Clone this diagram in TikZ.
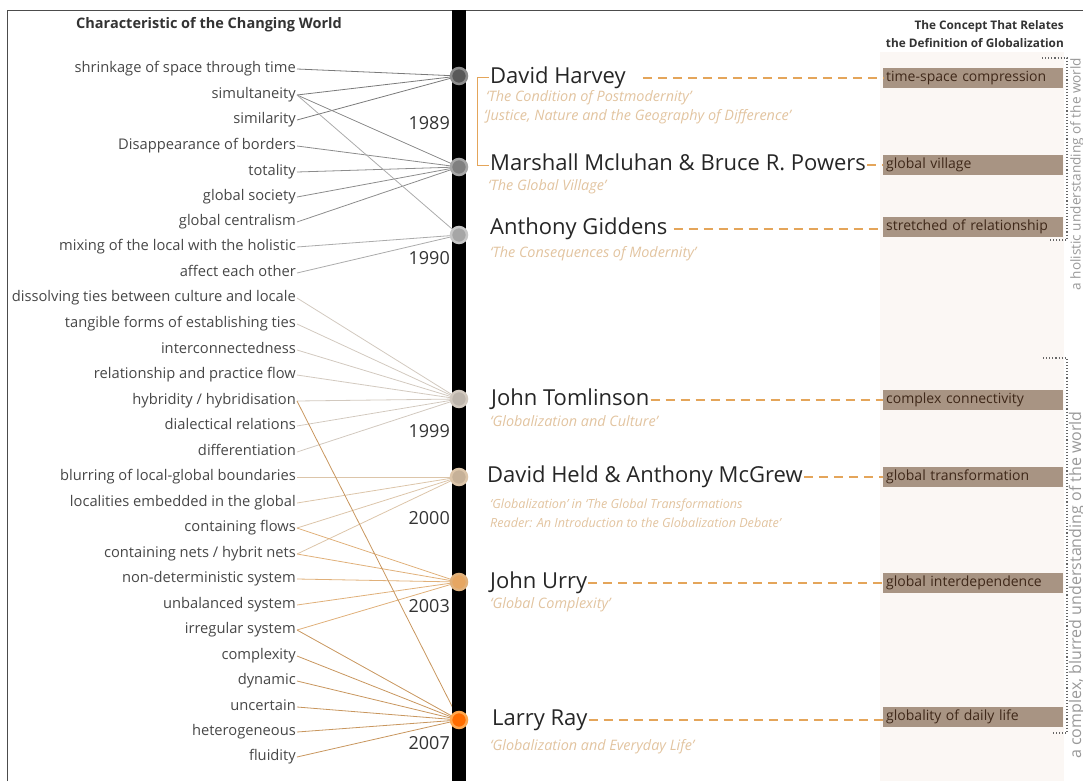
\documentclass[tikz,border=0pt]{standalone}
\usepackage{fontspec}
\setmainfont{Open Sans}
\usetikzlibrary{positioning}

\definecolor{harveyline}{HTML}{7A7A7A}
\definecolor{mcluhanline}{HTML}{8C8C8C}
\definecolor{giddensline}{HTML}{ABABAB}
\definecolor{tomlinsonline}{HTML}{D2C9BF}
\definecolor{heldline}{HTML}{DCC5A9}
\definecolor{urryline}{HTML}{E0B07A}
\definecolor{rayline}{HTML}{C8965E}
\definecolor{dashorange}{HTML}{E4A55A}
\definecolor{booktitle}{HTML}{E2C4A0}
\definecolor{conceptfill}{HTML}{A89483}
\definecolor{concepttext}{HTML}{3F2819}
\definecolor{bandfill}{HTML}{FBF7F4}

\begin{document}
\begin{tikzpicture}[x=1pt, y=-1pt,
  feature/.style={anchor=east, inner sep=1pt, text=black!72, text height=10pt, text depth=3pt,
    font=\fontsize{14.7}{16}\selectfont},
  year/.style={anchor=east, inner sep=1pt, text=black!80, font=\fontsize{18}{20}\selectfont},
  author/.style={anchor=west, inner sep=1pt, text=black!85, text height=16pt, text depth=5pt,
    font=\fontsize{22}{24}\selectfont},
  book/.style={anchor=west, inner sep=0pt, text=booktitle, font=\fontsize{14.4}{16}\selectfont\itshape},
  concept/.style={anchor=west, fill=conceptfill, text=concepttext, minimum height=20pt,
    text width=174pt, inner xsep=3pt, inner ysep=0pt, align=left, font=\fontsize{14}{16}\selectfont},
  event/.style={circle, minimum size=16pt, inner sep=0pt, line width=2.5pt},
  link/.style={line width=0.8pt},
  dashline/.style={draw=dashorange, line width=1.6pt, dash pattern=on 9pt off 6pt},
  heading/.style={inner sep=0pt, text=black!80, font=\fontsize{14.5}{16}\selectfont\bfseries}
]
\useasboundingbox (0,0) rectangle (1083,781);
% frame and right band
\fill[bandfill] (880,52) rectangle (1064,781);
\draw[black!70, line width=0.8pt] (7,781) -- (7,10) -- (1083,10);

% headings
\node[heading, anchor=west] (lefthead) at (76,25) {Characteristic of the Changing World};
\node[heading, anchor=east, align=right, font=\fontsize{11.8}{18}\selectfont\bfseries] (righthead) at (1064,34)
  {The Concept That Relates\\the Definition of Globalization};

% characteristics of the changing world
\node[feature] (shrink) at (297,69) {shrinkage of space through time};
\node[feature] (simult) at (297,95) {simultaneity};
\node[feature] (simil) at (297,120) {similarity};
\node[feature] (borders) at (297,146) {Disappearance of borders};
\node[feature] (total) at (297,172) {totality};
\node[feature] (society) at (297,197) {global society};
\node[feature] (central) at (297,222) {global centralism};
\node[feature] (mixing) at (297,247) {mixing of the local with the holistic};
\node[feature] (affect) at (297,273) {affect each other};
\node[feature] (dissolve) at (297,298) {dissolving ties between culture and locale};
\node[feature] (tangible) at (297,324) {tangible forms of establishing ties};
\node[feature] (interconn) at (297,350) {interconnectedness};
\node[feature] (practice) at (297,375) {relationship and practice flow};
\node[feature] (hybrid) at (297,401) {hybridity / hybridisation};
\node[feature] (dialect) at (297,426) {dialectical relations};
\node[feature] (differ) at (297,452) {differentiation};
\node[feature] (blur) at (297,477) {blurring of local-global boundaries};
\node[feature] (embed) at (297,503) {localities embedded in the global};
\node[feature] (flows) at (297,528) {containing flows};
\node[feature] (nets) at (297,554) {containing nets / hybrit nets};
\node[feature] (nondet) at (297,579) {non-deterministic system};
\node[feature] (unbal) at (297,605) {unbalanced system};
\node[feature] (irreg) at (297,630) {irregular system};
\node[feature] (complex) at (297,656) {complexity};
\node[feature] (dynamic) at (297,681) {dynamic};
\node[feature] (uncert) at (297,707) {uncertain};
\node[feature] (hetero) at (297,732) {heterogeneous};
\node[feature] (fluid) at (297,757) {fluidity};

% years
\node[year] (y1989) at (451,123) {1989};
\node[year] (y1990) at (451,258) {1990};
\node[year] (y1999) at (451,431) {1999};
\node[year] (y2000) at (451,518) {2000};
\node[year] (y2003) at (451,606) {2003};
\node[year] (y2007) at (451,743) {2007};

% event coordinates on the timeline
\coordinate (harvey) at (459,76);
\coordinate (mcluhan) at (459,167);
\coordinate (giddens) at (459,235);
\coordinate (tomlinson) at (459,399);
\coordinate (held) at (459,477);
\coordinate (urry) at (459,582);
\coordinate (ray) at (459,720);

% links
\draw[link, harveyline] (shrink.east) -- (harvey);
\draw[link, harveyline] (simult.east) -- (harvey);
\draw[link, harveyline] (simil.east) -- (harvey);
\draw[link, mcluhanline] (simult.east) -- (mcluhan);
\draw[link, mcluhanline] (borders.east) -- (mcluhan);
\draw[link, mcluhanline] (total.east) -- (mcluhan);
\draw[link, mcluhanline] (society.east) -- (mcluhan);
\draw[link, mcluhanline] (central.east) -- (mcluhan);
\draw[link, giddensline] (simult.east) -- (giddens);
\draw[link, giddensline] (mixing.east) -- (giddens);
\draw[link, giddensline] (affect.east) -- (giddens);
\draw[link, tomlinsonline] (dissolve.east) -- (tomlinson);
\draw[link, tomlinsonline] (tangible.east) -- (tomlinson);
\draw[link, tomlinsonline] (interconn.east) -- (tomlinson);
\draw[link, tomlinsonline] (practice.east) -- (tomlinson);
\draw[link, tomlinsonline] (hybrid.east) -- (tomlinson);
\draw[link, tomlinsonline] (dialect.east) -- (tomlinson);
\draw[link, tomlinsonline] (differ.east) -- (tomlinson);
\draw[link, heldline] (blur.east) -- (held);
\draw[link, heldline] (embed.east) -- (held);
\draw[link, heldline] (flows.east) -- (held);
\draw[link, heldline] (nets.east) -- (held);
\draw[link, urryline] (flows.east) -- (urry);
\draw[link, urryline] (nets.east) -- (urry);
\draw[link, urryline] (nondet.east) -- (urry);
\draw[link, urryline] (unbal.east) -- (urry);
\draw[link, urryline] (irreg.east) -- (urry);
\draw[link, rayline] (hybrid.east) -- (ray);
\draw[link, rayline] (irreg.east) -- (ray);
\draw[link, rayline] (complex.east) -- (ray);
\draw[link, rayline] (dynamic.east) -- (ray);
\draw[link, rayline] (uncert.east) -- (ray);
\draw[link, rayline] (hetero.east) -- (ray);
\draw[link, rayline] (fluid.east) -- (ray);

% timeline bar and events
\fill[black] (452,10) rectangle (466,781);
\node[event, fill=black!65, draw=black!45] (dharvey) at (harvey) {};
\node[event, fill=black!50, draw=black!35] (dmcluhan) at (mcluhan) {};
\node[event, fill=black!35, draw=black!22] (dgiddens) at (giddens) {};
\node[event, fill=tomlinsonline!90!black, draw=tomlinsonline] (dtomlinson) at (tomlinson) {};
\node[event, fill=heldline!90!black, draw=heldline] (dheld) at (held) {};
\node[event, fill=urryline!80!orange, draw=urryline] (durry) at (urry) {};
\node[event, fill=orange!85!red, draw=orange!70] (dray) at (ray) {};

% authors and books
\node[author] (aharvey) at (489,78) {David Harvey};
\node[book] (bharvey1) at (486,98) {‘The Condition of Postmodernity’};
\node[book] (bharvey2) at (484,117) {‘Justice, Nature and the Geography of Difference’};
\node[author] (amcluhan) at (489,165) {Marshall Mcluhan \& Bruce R. Powers};
\node[book] (bmcluhan) at (488,187) {‘The Global Village’};
\node[author] (agiddens) at (489,229) {Anthony Giddens};
\node[book] (bgiddens) at (490,254) {‘The Consequences of Modernity’};
\node[author] (atomlinson) at (490,400) {John Tomlinson};
\node[book] (btomlinson) at (490,421) {‘Globalization and Culture’};
\node[author] (aheld) at (486,477) {David Held \& Anthony McGrew};
\node[book, font=\fontsize{12.6}{14}\selectfont\itshape] (bheld1) at (490,505) {‘Globalization’ in ‘The Global Transformations};
\node[book, font=\fontsize{12.6}{14}\selectfont\itshape] (bheld2) at (490,523) {Reader: An Introduction to the Globalization Debate’};
\node[author] (aurry) at (489,583) {John Urry};
\node[book] (burry) at (490,605) {‘Global Complexity’};
\node[author] (aray) at (491,720) {Larry Ray};
\node[book] (bray) at (490,747) {‘Globalization and Everyday Life’};

% bracket joining the 1989 authors
\draw[dashorange, line width=1pt] (aharvey.west) -- ++(-12,0) |- (amcluhan.west);

% concepts
\node[concept] (charvey) at (883,78) {time-space compression};
\node[concept] (cmcluhan) at (883,165) {global village};
\node[concept] (cgiddens) at (883,227) {stretched of relationship};
\node[concept] (ctomlinson) at (883,400) {complex connectivity};
\node[concept] (cheld) at (883,477) {global transformation};
\node[concept] (curry) at (883,583) {global interdependence};
\node[concept] (cray) at (883,717) {globality of daily life};

\draw[dashline, shorten <=16pt] (aharvey.east) -- (aharvey.east -| charvey.west);
\draw[dashline] (amcluhan.east) -- (amcluhan.east -| cmcluhan.west);
\draw[dashline, shorten <=5pt] (agiddens.east) -- (agiddens.east -| cgiddens.west);
\draw[dashline] (atomlinson.east) -- (atomlinson.east -| ctomlinson.west);
\draw[dashline] (aheld.east) -- (aheld.east -| cheld.west);
\draw[dashline] (aurry.east) -- (aurry.east -| curry.west);
\draw[dashline] (aray.east) -- (aray.east -| cray.west);

% groupings on the right
\draw[black!60, line width=1.1pt, dotted] (1042,58) -- (1067,58) -- (1067,240) -- (1048,240);
\draw[black!60, line width=1.1pt, dotted] (1043,358) -- (1067,358) -- (1067,733) -- (1053,733);
\node[rotate=90, text=black!40, font=\fontsize{13.6}{15}\selectfont] (holistic) at (1077,174)
  {a holistic understanding of the world};
\node[rotate=90, text=black!40, font=\fontsize{16}{18}\selectfont] (blurred) at (1077,585)
  {a complex, blurred understanding of the world};
\end{tikzpicture}
\end{document}
